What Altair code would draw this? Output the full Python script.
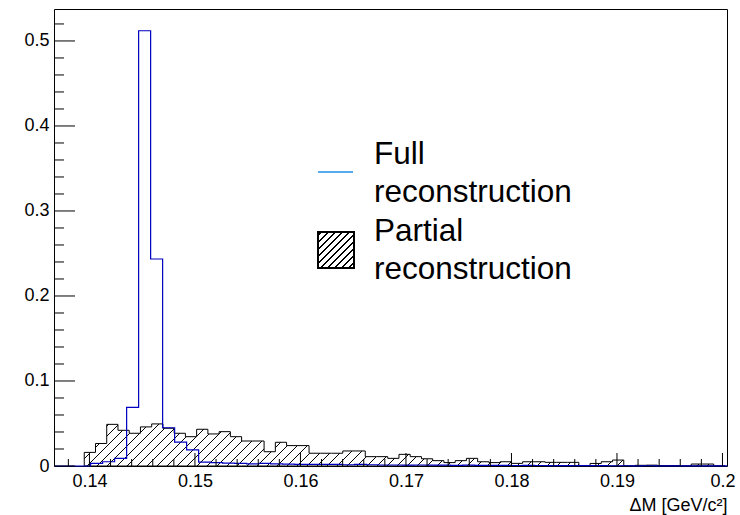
import math
import altair as alt
import pandas as pd

# ---------------- data ----------------
x_domain = [0.13664, 0.20043]
y_domain = [0.0, 0.5376]

# Full reconstruction (blue outline histogram)
full_start = 0.13670
full_width = 0.0011374
full_values = [0, 0, 0, 0.003, 0.005, 0.009, 0.069, 0.512, 0.2435, 0.045,
               0.028, 0.019, 0.0045, 0.004, 0.0035, 0.003, 0.0025, 0.003, 0.0025, 0.0022,
               0.002, 0.002, 0.0018, 0.0018, 0.0015, 0.0018, 0.0015, 0.0012, 0.0012, 0.001,
               0.0012, 0.001, 0.001, 0.0008, 0.001, 0.0008, 0.0008, 0.0007, 0.0006, 0.0008,
               0.0006, 0.0005, 0.0005, 0.0004, 0.0005, 0.0004, 0.0003, 0.0003, 0.0002, 0.0003,
               0.0002, 0.0002, 0.0001, 0.0001, 0.0001, 0.0001]

# Partial reconstruction (hatched histogram)
part_start = 0.139507
part_width = 0.0010654
part_values = [0.016, 0.0265, 0.049, 0.042, 0.0385, 0.046, 0.0495, 0.0444, 0.0385, 0.0345,
               0.0432, 0.0377, 0.0404, 0.0345, 0.0294, 0.0294, 0.0168, 0.0279, 0.024, 0.024,
               0.015, 0.015, 0.015, 0.0177, 0.0177, 0.011, 0.011, 0.009, 0.0137, 0.011,
               0.0085, 0.0063, 0.004, 0.0063, 0.009, 0.005, 0.004, 0.005, 0.0031, 0.005,
               0.005, 0.0043, 0.0043, 0.0043, 0.0, 0.003, 0.005, 0.007, 0.0, 0.0008,
               0.001, 0.0005, 0.0005, 0.0, 0.0023, 0.0023, 0.0]

x_major = [0.14, 0.15, 0.16, 0.17, 0.18, 0.19, 0.20]
x_minor = [round(0.138 + 0.002 * i, 3) for i in range(32)]
x_minor = [v for v in x_minor if all(abs(v - m) > 1e-9 for m in x_major)]
y_major = [0.0, 0.1, 0.2, 0.3, 0.4, 0.5]
y_minor = [round(0.02 * i, 2) for i in range(27)]
y_minor = [v for v in y_minor if all(abs(v - m) > 1e-9 for m in y_major)]

legend_labels = ["Full\nreconstruction", "Partial\nreconstruction"]
x_title = "ΔM [GeV/c²]"

# ---------------- layout / style ----------------
W, H = 673, 457
FONT = "Liberation Sans"
BLUE = "#0000c0"
LEG_BLUE = "#55aaee"

xs = alt.Scale(domain=x_domain, nice=False, zero=False)
ys = alt.Scale(domain=y_domain, nice=False, zero=False)
px_per_x = W / (x_domain[1] - x_domain[0])
px_per_y = H / (y_domain[1] - y_domain[0])

XAXIS = alt.Axis(
    values=x_major, format=".2~f", ticks=False, tickSize=0, domain=False, grid=False,
    labelFont=FONT, labelFontSize=18, labelColor="black", labelPadding=6,
    labelFlush=False, labelOverlap=False,
    title=x_title, titleFont=FONT, titleFontSize=18, titleFontWeight="normal",
    titleColor="black", titleAnchor="end", titleAlign="right", titleX=W, titleY=44,
    titleBaseline="alphabetic")
YAXIS = alt.Axis(
    values=y_major, format=".1~f", ticks=False, tickSize=0, domain=False, grid=False,
    labelFont=FONT, labelFontSize=18, labelColor="black", labelPadding=5,
    labelFlush=False, labelOverlap=False, title=None)


def X(field):
    return alt.X(field, type="quantitative", scale=xs, axis=XAXIS)


def Y(field):
    return alt.Y(field, type="quantitative", scale=ys, axis=YAXIS)


def hatch(bw, bh, spacing, thick):
    r = bh / bw
    total = bw + bh
    a = total / (bw * (1 + r * r))
    lw = thick * math.sqrt(2)
    stops = []
    c = spacing / 2
    while c + lw / 2 < total:
        o0 = (c - lw / 2) / total
        o1 = (c + lw / 2) / total
        stops += [alt.GradientStop(color="white", offset=o0),
                  alt.GradientStop(color="black", offset=o0),
                  alt.GradientStop(color="black", offset=o1),
                  alt.GradientStop(color="white", offset=o1)]
        c += spacing
    return alt.LinearGradient(gradient="linear", stops=stops,
                              x1=0, y1=0, x2=a, y2=a * r)


# hatched histogram as step area
pe = [part_start + part_width * i for i in range(len(part_values) + 1)]
part_df = pd.DataFrame({"x": pe, "y": part_values + [0.0]})
area_w = (pe[-1] - pe[0]) * px_per_x
area_h = max(part_values) * px_per_y
part_layer = alt.Chart(part_df).mark_area(
    interpolate="step-after", stroke="black", strokeWidth=1,
    fill=hatch(area_w, area_h, 10, 1.0)
).encode(x=X("x"), y=Y("y"))

fe = [full_start + full_width * i for i in range(len(full_values) + 1)]
full_df = pd.DataFrame({"x": fe, "y": full_values + [0.0]})
full_layer = alt.Chart(full_df).mark_line(
    interpolate="step-after", color=BLUE, strokeWidth=1.2
).encode(x=X("x"), y=Y("y"))

xmaj = alt.Chart(pd.DataFrame({"x": x_major})).mark_rule(color="black", strokeWidth=1).encode(
    x=X("x"), y=alt.value(H), y2=alt.value(H - 13))
xmin = alt.Chart(pd.DataFrame({"x": x_minor})).mark_rule(color="black", strokeWidth=1).encode(
    x=X("x"), y=alt.value(H), y2=alt.value(H - 7))
ymaj = alt.Chart(pd.DataFrame({"y": y_major})).mark_rule(color="black", strokeWidth=1).encode(
    y=Y("y"), x=alt.value(0), x2=alt.value(21))
ymin = alt.Chart(pd.DataFrame({"y": y_minor})).mark_rule(color="black", strokeWidth=1).encode(
    y=Y("y"), x=alt.value(0), x2=alt.value(10))

one = pd.DataFrame({"k": [0]})
leg_line = alt.Chart(one).mark_rule(color=LEG_BLUE, strokeWidth=2).encode(
    x=alt.value(264), x2=alt.value(299), y=alt.value(163))
leg_box = alt.Chart(one).mark_rect(
    fill=hatch(36, 36, 7, 1.4), stroke="black", strokeWidth=2
).encode(x=alt.value(264), x2=alt.value(300), y=alt.value(223), y2=alt.value(259))
leg_t1 = alt.Chart(one).mark_text(
    font=FONT, fontSize=31.5, align="left", baseline="alphabetic", lineBreak="\n",
    lineHeight=37.5, color="black"
).encode(x=alt.value(320), y=alt.value(155), text=alt.value(legend_labels[0]))
leg_t2 = alt.Chart(one).mark_text(
    font=FONT, fontSize=31.5, align="left", baseline="alphabetic", lineBreak="\n",
    lineHeight=37.5, color="black"
).encode(x=alt.value(320), y=alt.value(232), text=alt.value(legend_labels[1]))

chart = alt.layer(
    part_layer, full_layer, xmaj, xmin, ymaj, ymin, leg_line, leg_box, leg_t1, leg_t2
).properties(
    width=W, height=H,
    autosize=alt.AutoSizeParams(type="none"),
    padding={"left": 54, "top": 9, "right": 13, "bottom": 49},
    background="white",
).configure_view(stroke="black", strokeWidth=1)

chart.save("out.html", embed_options={"renderer": "svg", "actions": False})
